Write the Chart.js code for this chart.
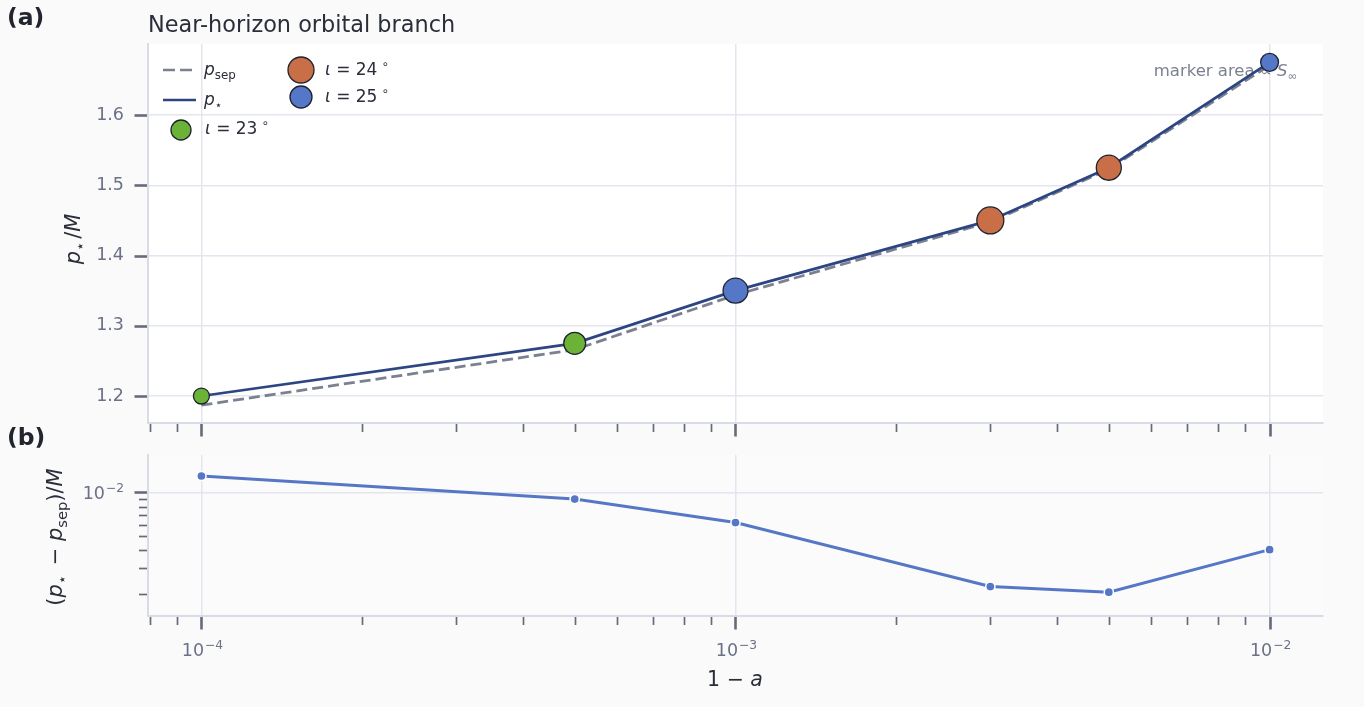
<!DOCTYPE html>
<html>
<head>
<meta charset="utf-8">
<title>Near-horizon orbital branch</title>
<script src="https://cdn.jsdelivr.net/npm/chart.js@4.4.1/dist/chart.umd.min.js"></script>
<style>
  html, body { margin: 0; padding: 0; background: #fafafa; }
  #wrap { position: relative; width: 1364px; height: 707px; overflow: hidden; }
  #wrap canvas { position: absolute; left: 0; top: 0; }
</style>
</head>
<body>
<div id="wrap">
  <canvas id="upper" width="1364" height="707"></canvas>
  <canvas id="lower" width="1364" height="707"></canvas>
</div>
<script>
// ---- data ----------------------------------------------------------------
const spinGap     = [1e-4, 5e-4, 1e-3, 3e-3, 5e-3, 1e-2];          // 1 - a
const pStar       = [1.200, 1.275, 1.350, 1.450, 1.525, 1.675];      // p_star / M
const pSep        = [1.187, 1.266, 1.3438, 1.4478, 1.52295, 1.67097];// p_sep / M
const deltaP      = [0.0130, 0.0090, 0.0062, 0.00224, 0.00205, 0.00403]; // (p_star - p_sep)/M
const inclination = [23, 23, 25, 24, 24, 25];                        // iota in degrees
const sInf        = [0.35, 0.66, 0.85, 1.00, 0.86, 0.44];            // S_inf (relative)
const pTicks      = [1.2, 1.3, 1.4, 1.5, 1.6];
const decadeTicks = [1e-4, 1e-3, 1e-2];
const decadeExponents = ['\u22124', '\u22123', '\u22122'];
const legendIncl  = [23, 24, 25];

// ---- style ---------------------------------------------------------------
const FAMILY = "'DejaVu Sans', sans-serif";
const TEXT = '#2a2e3a';
const TICK_TEXT = '#6b7186';
const TICK_MARK = '#666b7c';
const SPINE = '#d9dbe5';
const GRID = '#e4e5ee';
const TICK_SIZE = 17.5;
const inclColor = { 23: '#6cb237', 24: '#c96f48', 25: '#5577c8' };
const MARKER_EDGE = '#1e2230';
const MAX_R = 13.5;
const markerRadius = s => MAX_R * Math.sqrt(s);

const X_MIN = Math.pow(10, -4.1), X_MAX = Math.pow(10, -1.9);

// log-axis tick positions: every mantissa 1..9 inside the range
function logTickValues(min, max) {
  const out = [];
  for (let e = Math.floor(Math.log10(min)); e <= Math.ceil(Math.log10(max)); e++) {
    for (let m = 1; m <= 9; m++) {
      const v = m * Math.pow(10, e);
      if (v >= min * 0.9999 && v <= max * 1.0001) out.push(+v.toPrecision(6));
    }
  }
  return out;
}
const isDecade = v => Math.abs(Math.log10(v) - Math.round(Math.log10(v))) < 1e-9;
function decadeIndex(v) {
  for (let i = 0; i < decadeTicks.length; i++) {
    if (Math.abs(Math.log10(v) - Math.log10(decadeTicks[i])) < 1e-9) return i;
  }
  return -1;
}

// ---- rich text (italics, sub/superscripts) -------------------------------
function fontOf(p, size) {
  const s = (p.sub || p.sup) ? size * 0.7 : size;
  return (p.it ? 'italic ' : '') + (p.bold ? 'bold ' : '') + s + 'px ' + FAMILY;
}
function richWidth(ctx, parts, size) {
  let w = 0;
  for (const p of parts) { ctx.font = fontOf(p, size); w += ctx.measureText(p.t).width + (p.gap || 0); }
  return w;
}
function drawRich(ctx, parts, x, y, o) {
  const size = o.size, align = o.align || 'left';
  ctx.save();
  ctx.translate(x, y);
  if (o.rot) ctx.rotate(o.rot);
  const w = richWidth(ctx, parts, size);
  let cx = align === 'center' ? -w / 2 : align === 'right' ? -w : 0;
  ctx.fillStyle = o.color;
  ctx.textAlign = 'left';
  ctx.textBaseline = 'alphabetic';
  for (const p of parts) {
    ctx.font = fontOf(p, size);
    const dy = p.sub ? size * 0.22 : p.sup ? -size * 0.42 : 0;
    ctx.fillText(p.t, cx, dy);
    cx += ctx.measureText(p.t).width + (p.gap || 0);
  }
  ctx.restore();
}
const P_SEP = [{ t: 'p', it: 1 }, { t: 'sep', sub: 1 }];
const P_STAR = [{ t: 'p', it: 1 }, { t: '\u22C6', sub: 1, gap: 2 }];
const inclParts = d => [{ t: '\u03B9', it: 1 }, { t: ' = ' + d, gap: 4 }, { t: '\u2218', sup: 1 }];
const decadeParts = i => [{ t: '10', gap: 1 }, { t: decadeExponents[i], sup: 1 }];

// ---- shared plugins -------------------------------------------------------
function panelBackground(color) {
  return {
    id: 'panelBackground',
    beforeDraw(chart) {
      const a = chart.chartArea, ctx = chart.ctx;
      ctx.save();
      ctx.fillStyle = color;
      ctx.fillRect(a.left, a.top, a.right - a.left, a.bottom - a.top);
      ctx.restore();
    }
  };
}
// outward tick marks: long at labelled positions, short at minor positions
const tickMarks = {
  id: 'tickMarks',
  afterDraw(chart) {
    const ctx = chart.ctx, a = chart.chartArea;
    ctx.save();
    ctx.strokeStyle = TICK_MARK;
    for (const s of Object.values(chart.scales)) {
      for (const t of s.ticks) {
        const major = s.type === 'linear' || isDecade(t.value);
        const len = major ? 12.5 : 8;
        ctx.lineWidth = major ? 2.6 : 1.7;
        const p = Math.round(s.getPixelForValue(t.value)) + 0.5;
        ctx.beginPath();
        if (s.isHorizontal()) { ctx.moveTo(p, a.bottom + 1); ctx.lineTo(p, a.bottom + 1 + len); }
        else { ctx.moveTo(a.left - 1, p); ctx.lineTo(a.left - 1 - len, p); }
        ctx.stroke();
      }
    }
    ctx.restore();
  }
};
// power-of-ten labels with raised exponents on the log axes
function decadeLabels(showX, showY) {
  return {
    id: 'decadeLabels',
    afterDraw(chart) {
      const ctx = chart.ctx, a = chart.chartArea;
      const sx = chart.scales.x, sy = chart.scales.y;
      if (showX) for (const t of sx.ticks) {
        const i = decadeIndex(t.value);
        if (i >= 0) drawRich(ctx, decadeParts(i), sx.getPixelForValue(t.value) + 1, a.bottom + 40,
          { size: TICK_SIZE, color: TICK_TEXT, align: 'center' });
      }
      if (showY) for (const t of sy.ticks) {
        const i = decadeIndex(t.value);
        if (i >= 0) drawRich(ctx, decadeParts(i), a.left - 24, sy.getPixelForValue(t.value) + 6.5,
          { size: TICK_SIZE, color: TICK_TEXT, align: 'right' });
      }
    }
  };
}
function fixBox(opts) {
  return function (scale) {
    if (opts.width != null) scale.width = opts.width;
    if (opts.height != null) scale.height = opts.height;
    scale.paddingLeft = scale.paddingRight = scale.paddingTop = scale.paddingBottom = 0;
  };
}
const gridColor = ctx => (ctx.tick && (ctx.scale.type === 'linear' || isDecade(ctx.tick.value))) ? GRID : 'rgba(0,0,0,0)';

Chart.defaults.font.family = FAMILY;
Chart.defaults.devicePixelRatio = 1;

// ---- upper panel: p_star and p_sep ---------------------------------------
const pts = (xs, ys) => xs.map((x, i) => ({ x, y: ys[i] }));

const upperText = {
  id: 'upperText',
  beforeDatasetsDraw(chart) {
    const ctx = chart.ctx;
    drawRich(ctx, [{ t: 'marker area \u221D ' }, { t: 'S', it: 1 }, { t: '\u221E', sub: 1 }],
      1297, 76, { size: 16.5, color: '#7b8092', align: 'right' });
  },
  afterDraw(chart) {
    const ctx = chart.ctx;
    drawRich(ctx, [{ t: '(a)', bold: 1 }], 7, 25, { size: 23.5, color: '#22252e' });
    drawRich(ctx, [{ t: 'Near-horizon orbital branch' }], 148, 32, { size: 22.4, color: TEXT });
    drawRich(ctx, [{ t: 'p', it: 1 }, { t: '\u22C6', sub: 1, gap: 3 }, { t: '/' }, { t: 'M', it: 1 }],
      80, 239, { size: 21, color: TEXT, align: 'center', rot: -Math.PI / 2 });

    // legend, two columns
    ctx.save();
    ctx.lineWidth = 2.7;
    ctx.strokeStyle = '#7b8190';
    ctx.setLineDash([12, 5]);
    ctx.beginPath(); ctx.moveTo(163, 70); ctx.lineTo(196, 70); ctx.stroke();
    ctx.setLineDash([]);
    ctx.strokeStyle = '#2e4583';
    ctx.beginPath(); ctx.moveTo(163, 100); ctx.lineTo(196, 100); ctx.stroke();
    const dot = (x, y, r, c) => {
      ctx.beginPath(); ctx.arc(x, y, r, 0, Math.PI * 2);
      ctx.fillStyle = c; ctx.fill();
      ctx.lineWidth = 1.3; ctx.strokeStyle = MARKER_EDGE; ctx.stroke();
    };
    dot(181, 130, 10, inclColor[legendIncl[0]]);
    dot(301, 70, 13, inclColor[legendIncl[1]]);
    dot(301, 97, 11, inclColor[legendIncl[2]]);
    ctx.restore();
    drawRich(ctx, P_SEP, 204, 75, { size: 17, color: TEXT });
    drawRich(ctx, P_STAR, 204, 105, { size: 17, color: TEXT });
    drawRich(ctx, inclParts(legendIncl[0]), 205, 134, { size: 17, color: TEXT });
    drawRich(ctx, inclParts(legendIncl[1]), 325, 75, { size: 17, color: TEXT });
    drawRich(ctx, inclParts(legendIncl[2]), 325, 102, { size: 17, color: TEXT });
  }
};

new Chart(document.getElementById('upper'), {
  type: 'line',
  data: {
    datasets: [
      {
        label: 'inclination',
        data: pts(spinGap, pStar),
        showLine: false,
        pointRadius: c => markerRadius(sInf[c.dataIndex]),
        pointBackgroundColor: c => inclColor[inclination[c.dataIndex]],
        pointBorderColor: MARKER_EDGE,
        pointBorderWidth: 1.3,
        order: 0
      },
      {
        label: 'p_star',
        data: pts(spinGap, pStar),
        borderColor: '#2e4583',
        borderWidth: 2.7,
        pointRadius: 0,
        tension: 0,
        order: 1
      },
      {
        label: 'p_sep',
        data: pts(spinGap, pSep),
        borderColor: '#7b8190',
        borderWidth: 2.8,
        borderDash: [11, 5],
        pointRadius: 0,
        tension: 0,
        order: 2
      }
    ]
  },
  options: {
    responsive: false,
    animation: false,
    events: [],
    layout: { padding: { left: 0, top: 44, right: 41, bottom: 0 } },
    plugins: { legend: { display: false }, tooltip: { enabled: false } },
    scales: {
      x: {
        type: 'logarithmic',
        min: X_MIN, max: X_MAX,
        afterBuildTicks: s => { s.ticks = logTickValues(X_MIN, X_MAX).map(v => ({ value: v })); },
        afterFit: fixBox({ height: 707 - 423 }),
        ticks: { display: false },
        grid: { drawTicks: false, color: gridColor, lineWidth: 1.5 },
        border: { color: SPINE, width: 2 }
      },
      y: {
        type: 'linear',
        min: 1.1616, max: 1.7011,
        afterBuildTicks: s => { s.ticks = pTicks.map(v => ({ value: v })); },
        afterFit: fixBox({ width: 148 }),
        ticks: { callback: v => v.toFixed(1), color: TICK_TEXT, font: { size: TICK_SIZE }, padding: 24 },
        grid: { drawTicks: false, color: GRID, lineWidth: 1.5 },
        border: { color: SPINE, width: 2 }
      }
    }
  },
  plugins: [panelBackground('#ffffff'), tickMarks, upperText]
});

// ---- lower panel: difference on log scale --------------------------------
const Y2_MIN = 1.403e-3, Y2_MAX = 0.01815;
const lowerText = {
  id: 'lowerText',
  afterDraw(chart) {
    const ctx = chart.ctx;
    drawRich(ctx, [{ t: '(b)', bold: 1 }], 7, 445, { size: 23.5, color: '#22252e' });
    drawRich(ctx, [{ t: '(' }, { t: 'p', it: 1 }, { t: '\u22C6', sub: 1, gap: 3 }, { t: ' \u2212 ' },
      { t: 'p', it: 1 }, { t: 'sep', sub: 1 }, { t: ')/' }, { t: 'M', it: 1 }],
      62, 537, { size: 21, color: TEXT, align: 'center', rot: -Math.PI / 2 });
    drawRich(ctx, [{ t: '1 \u2212 ' }, { t: 'a', it: 1 }], 735, 686, { size: 20.5, color: TEXT, align: 'center' });
  }
};

new Chart(document.getElementById('lower'), {
  type: 'line',
  data: {
    datasets: [{
      label: 'difference',
      data: pts(spinGap, deltaP),
      borderColor: '#5677c6',
      borderWidth: 3,
      pointRadius: 4.6,
      pointBackgroundColor: '#5677c6',
      pointBorderColor: '#ffffff',
      pointBorderWidth: 1.5,
      tension: 0
    }]
  },
  options: {
    responsive: false,
    animation: false,
    events: [],
    layout: { padding: { left: 0, top: 455, right: 41, bottom: 0 } },
    plugins: { legend: { display: false }, tooltip: { enabled: false } },
    scales: {
      x: {
        type: 'logarithmic',
        min: X_MIN, max: X_MAX,
        afterBuildTicks: s => { s.ticks = logTickValues(X_MIN, X_MAX).map(v => ({ value: v })); },
        afterFit: fixBox({ height: 707 - 616 }),
        ticks: { display: false },
        grid: { drawTicks: false, color: gridColor, lineWidth: 1.5 },
        border: { color: SPINE, width: 2 }
      },
      y: {
        type: 'logarithmic',
        min: Y2_MIN, max: Y2_MAX,
        afterBuildTicks: s => { s.ticks = logTickValues(Y2_MIN, Y2_MAX).map(v => ({ value: v })); },
        afterFit: fixBox({ width: 148 }),
        ticks: { display: false },
        grid: { drawTicks: false, color: gridColor, lineWidth: 1.5 },
        border: { color: SPINE, width: 2 }
      }
    }
  },
  plugins: [panelBackground('#fbfbfc'), tickMarks, decadeLabels(true, true), lowerText]
});
</script>
</body>
</html>
